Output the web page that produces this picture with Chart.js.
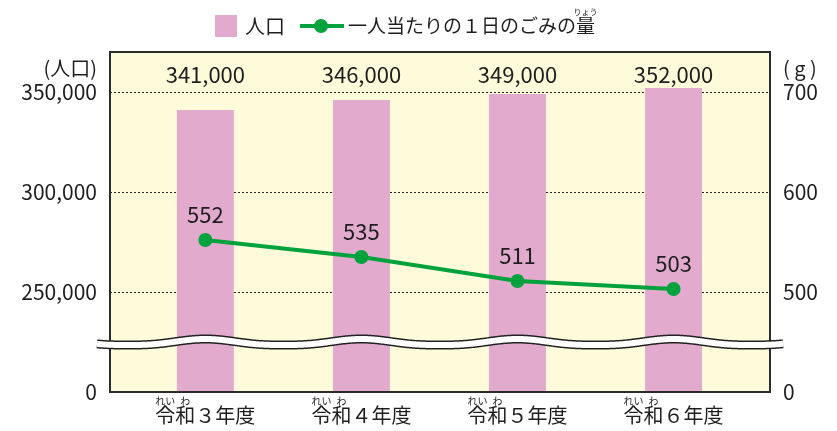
<!DOCTYPE html>
<html lang="ja">
<head>
<meta charset="utf-8">
<title>人口と一人当たりの１日のごみの量</title>
<script src="https://cdn.jsdelivr.net/npm/chart.js@4.4.1/dist/chart.umd.min.js"></script>
<style>
  html, body { margin: 0; padding: 0; background: #fff; }
  #wrap { width: 837px; height: 431px; }
</style>
</head>
<body>
<div id="wrap"><canvas id="my-chart" width="837" height="431"></canvas></div>
<script>
'use strict';

// Chart data
let categories = ['令和３年度', '令和４年度', '令和５年度', '令和６年度'];
let categoryRuby = ['れい', 'わ']; // furigana over 令 and 和
let population = [341000, 346000, 349000, 352000];
let garbagePerPerson = [552, 535, 511, 503];

// Tick labels (both axes are broken, the bottom tick reads 0)
let popTickValues = [200000, 250000, 300000, 350000];
let popTickLabels = ['0', '250,000', '300,000', '350,000'];
let gramTickValues = [400, 500, 600, 700];
let gramTickLabels = ['0', '500', '600', '700'];

let legendLabels = ['人口', '一人当たりの１日のごみの量'];
let legendRuby = 'りょう'; // over 量

// Colours
let pink = '#e2abcd';
let green = '#00a23e';
let cream = '#fefbda';
let ink = '#1e1e1e';

const FONT = "'Noto Sans CJK JP', 'Noto Sans', sans-serif";
Chart.defaults.font.family = FONT;
Chart.defaults.color = ink;

let ctx = document.getElementById('my-chart');

// draws background, frame, axis break, value labels, legend and furigana
const decorations = {
  id: 'decorations',
  beforeDraw(chart) {
    const c = chart.ctx;
    const a = chart.chartArea;
    c.save();
    c.fillStyle = cream;
    c.fillRect(a.left, a.top, a.right - a.left, a.bottom - a.top);
    c.restore();
  },
  afterDatasetsDraw(chart) {
    const c = chart.ctx;
    const a = chart.chartArea;
    const xs = chart.scales.x;
    const ys = chart.scales.y;

    // frame
    c.save();
    c.strokeStyle = '#2b2b2b';
    c.lineWidth = 2;
    c.strokeRect(a.left, a.top, a.right - a.left, a.bottom - a.top);

    // wavy break band
    let base = ys.getPixelForValue(223500);
    let p0 = xs.getPixelForValue(0);
    let period = xs.getPixelForValue(1) - p0;
    c.beginPath();
    for (let x = a.left - 13; x <= a.right + 13; x++) {
      let k = (1 + Math.cos(2 * Math.PI * (x - p0) / period)) / 2;
      let y = base - 6 * Math.pow(k, 1.5);
      if (x === a.left - 13) c.moveTo(x, y); else c.lineTo(x, y);
    }
    c.lineCap = 'butt';
    c.lineJoin = 'round';
    c.strokeStyle = '#222';
    c.lineWidth = 9;
    c.stroke();
    c.strokeStyle = '#fff';
    c.lineWidth = 6;
    c.stroke();

    // value labels
    c.fillStyle = ink;
    c.textAlign = 'center';
    c.textBaseline = 'middle';
    c.font = '22px ' + FONT;
    for (let i = 0; i < population.length; i++) {
      c.fillText(population[i].toLocaleString('en-US'), xs.getPixelForValue(i), a.top + 23);
    }
    let lineMeta = chart.getDatasetMeta(0);
    for (let i = 0; i < garbagePerPerson.length; i++) {
      let pt = lineMeta.data[i];
      c.fillText(String(garbagePerPerson[i]), pt.x, pt.y - 25);
    }
    c.restore();
  },
  afterDraw(chart) {
    const c = chart.ctx;
    const a = chart.chartArea;
    const xs = chart.scales.x;
    c.save();
    c.fillStyle = ink;
    c.textBaseline = 'middle';

    // axis titles
    c.font = '20px ' + FONT;
    c.textAlign = 'right';
    c.fillText('(人口)', a.left - 13, a.top + 16);
    c.textAlign = 'left';
    c.fillText('( g )', a.right + 13, a.top + 16);

    // legend
    let ly = 26;
    let lx = 215;
    c.fillStyle = pink;
    c.fillRect(lx, ly - 11, 22, 22);
    c.fillStyle = ink;
    c.font = '20px ' + FONT;
    c.fillText(legendLabels[0], lx + 30, ly);
    lx += 30 + c.measureText(legendLabels[0]).width + 15;
    c.strokeStyle = green;
    c.lineWidth = 4;
    c.beginPath();
    c.moveTo(lx, ly);
    c.lineTo(lx + 44, ly);
    c.stroke();
    c.fillStyle = green;
    c.beginPath();
    c.arc(lx + 21, ly, 7, 0, Math.PI * 2);
    c.fill();
    lx += 48;
    c.fillStyle = ink;
    c.font = '19px ' + FONT;
    c.fillText(legendLabels[1], lx, ly);
    let full = c.measureText(legendLabels[1]).width;
    let last = c.measureText('量').width;
    c.font = '8px ' + FONT;
    c.textAlign = 'center';
    c.fillText(legendRuby, lx + full - last / 2, ly - 14);

    // furigana over the x labels
    c.font = '20px ' + FONT;
    let w1 = c.measureText('令').width;
    let w2 = c.measureText('和').width;
    for (let i = 0; i < categories.length; i++) {
      c.font = '20px ' + FONT;
      let w = c.measureText(categories[i]).width;
      let left = xs.getPixelForValue(i) - w / 2;
      c.font = '10px ' + FONT;
      c.fillText(categoryRuby[0], left + w1 / 2, a.bottom + 9);
      c.fillText(categoryRuby[1], left + w1 + w2 / 2, a.bottom + 9);
    }
    c.restore();
  }
};

let chartObject = {
  type: 'bar',
  data: {
    datasets: [{
      type: 'line',
      label: legendLabels[1],
      data: garbagePerPerson.map((v, i) => ({ x: i, y: v })),
      yAxisID: 'y2',
      borderColor: green,
      backgroundColor: green,
      borderWidth: 4,
      pointRadius: 7,
      pointBorderWidth: 0,
      pointBackgroundColor: green,
      order: 0
    },
    {
      type: 'bar',
      label: legendLabels[0],
      data: population.map((v, i) => ({ x: i, y: v })),
      yAxisID: 'y',
      backgroundColor: pink,
      borderWidth: 0,
      barPercentage: 0.365,
      categoryPercentage: 1,
      order: 1
    }]
  },
  options: {
    responsive: false,
    animation: false,
    events: [],
    devicePixelRatio: 1,
    layout: { padding: { top: 52, left: 0, right: 0, bottom: 0 } },
    plugins: {
      legend: { display: false },
      tooltip: { enabled: false }
    },
    scales: {
      x: {
        type: 'linear',
        offset: false,
        min: -0.611,
        max: 3.618,
        afterBuildTicks: (axis) => { axis.ticks = categories.map((c, i) => ({ value: i })); },
        afterFit: (axis) => { axis.height = 39; },
        grid: { display: false, drawTicks: false, offset: false },
        border: { display: false },
        ticks: {
          autoSkip: false,
          maxRotation: 0,
          padding: 11,
          font: { size: 20 },
          color: ink,
          callback: (value) => categories[value]
        }
      },
      y: {
        position: 'left',
        min: 200000,
        max: 370000,
        afterBuildTicks: (axis) => { axis.ticks = popTickValues.map(v => ({ value: v })); },
        afterFit: (axis) => { axis.width = 110; },
        grid: {
          drawTicks: false,
          lineWidth: 1,
          color: (c) => (c.tick && c.tick.value === popTickValues[0]) ? 'rgba(0,0,0,0)' : '#222'
        },
        border: { display: false, dash: [2, 2] },
        ticks: {
          autoSkip: false,
          padding: 13,
          font: { size: 21 },
          color: ink,
          callback: (value) => popTickLabels[popTickValues.indexOf(value)]
        }
      },
      y2: {
        position: 'right',
        min: 400,
        max: 740,
        afterBuildTicks: (axis) => { axis.ticks = gramTickValues.map(v => ({ value: v })); },
        afterFit: (axis) => { axis.width = 67; },
        grid: { display: false, drawTicks: false },
        border: { display: false },
        ticks: {
          autoSkip: false,
          padding: 13,
          font: { size: 21 },
          color: ink,
          callback: (value) => gramTickLabels[gramTickValues.indexOf(value)]
        }
      }
    }
  },
  plugins: [decorations]
};

const garbageChart = new Chart(ctx, chartObject);
</script>
</body>
</html>
